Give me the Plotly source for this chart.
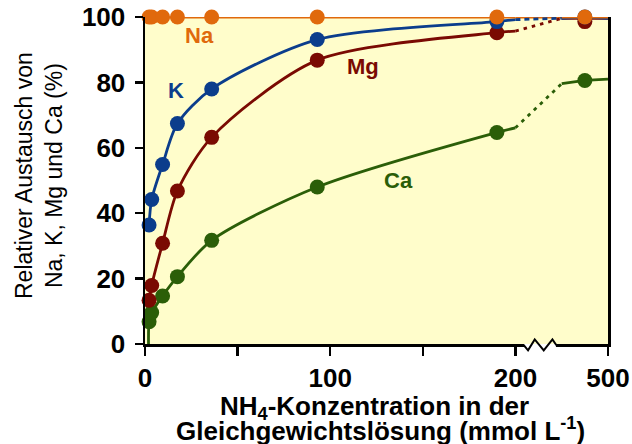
import plotly.graph_objects as go

# ---------------- data ----------------
conc = [2.2, 3.6, 9.5, 17.5, 36, 93, 190, 450]          # NH4 concentration (mmol/L)
na = [100, 100, 100, 100, 100, 100, 100, 100]
k = [36.4, 44.2, 54.9, 67.4, 78.0, 93.1, 98.6, 100]
mg = [13.4, 17.9, 30.8, 46.8, 63.2, 86.8, 95.2, 98.6]
ca = [6.8, 9.6, 14.7, 20.6, 31.7, 48.0, 64.7, 80.6]

# curve values read at the end of the lower segment (200), start of the upper segment (400) and axis end (500)
curve_x = [200, 400, 500]
na_curve = [100, 100, 100]
k_curve = [99.2, 99.6, 99.6]
mg_curve = [95.7, 99.6, 99.6]
ca_curve = [66.1, 79.6, 81.0]
ca_start = [1.9, 0]   # where the Ca curve meets the x axis

x_tick_vals = [0, 100, 200, 500]
x_tick_text = ["0", "100", "200", "500"]
x_minor_vals = [50, 150]
y_tick_vals = [0, 20, 40, 60, 80, 100]

series = [
    ("Ca", ca, ca_curve, "#2B5E08"),
    ("Mg", mg, mg_curve, "#7A0A02"),
    ("K", k, k_curve, "#0B3D8C"),
    ("Na", na, na_curve, "#E0690C"),
]

# ---------------- broken x axis mapping ----------------
LOW_MAX = 200
HIGH_MIN, HIGH_MAX = 400, 500
HIGH_START_POS, HIGH_END_POS = 225, 250


def xpos(v):
    if v <= LOW_MAX:
        return v
    return HIGH_START_POS + (v - HIGH_MIN) * (HIGH_END_POS - HIGH_START_POS) / (HIGH_MAX - HIGH_MIN)


FONT = "Liberation Sans, Arial, Helvetica, sans-serif"
LW = 2.8

fig = go.Figure()
late = []
for name, vals, cv, col in series:
    low_x = [c for c in conc if c <= LOW_MAX]
    low_y = vals[:len(low_x)]
    hi_x = [c for c in conc if c > LOW_MAX]
    hi_y = vals[len(low_x):]
    seg1_x = low_x + [curve_x[0]]
    seg1_y = low_y + [cv[0]]
    if name == "Ca":
        seg1_x = [ca_start[0]] + seg1_x
        seg1_y = [ca_start[1]] + seg1_y
    seg2_x = [curve_x[1]] + hi_x + [curve_x[2]]
    seg2_y = [cv[1]] + hi_y + [cv[2]]
    if name == "Mg":
        seg2_y = [cv[1], cv[2], cv[2]]
    fig.add_trace(go.Scatter(x=[xpos(v) for v in seg1_x], y=seg1_y, mode="lines",
                             line=dict(color=col, width=LW, shape="spline", smoothing=0.8),
                             cliponaxis=False, hoverinfo="skip"))
    fig.add_trace(go.Scatter(x=[xpos(v) for v in seg2_x], y=seg2_y, mode="lines",
                             line=dict(color=col, width=LW),
                             cliponaxis=False, hoverinfo="skip"))
    brk = go.Scatter(x=[xpos(curve_x[0]), xpos(curve_x[1])], y=[cv[0], cv[1]], mode="lines",
                     line=dict(color=col, width=LW,
                               dash="solid" if name == "Na" else ("5px,4px" if name == "K" else "3.5px,5px")),
                     cliponaxis=False, hoverinfo="skip")
    if name in ("K", "Mg"):
        late.append(brk)
    else:
        fig.add_trace(brk)
    fig.add_trace(go.Scatter(x=[xpos(v) for v in conc], y=vals, mode="markers",
                             marker=dict(color=col, size=15, line=dict(width=0)),
                             cliponaxis=False, hoverinfo="skip"))
for t in late:
    fig.add_trace(t)

# ---------------- axes ----------------
fig.update_xaxes(range=[0, HIGH_END_POS], tickvals=[xpos(v) for v in x_tick_vals], ticktext=x_tick_text,
                 minor=dict(tickvals=[xpos(v) for v in x_minor_vals], ticks="outside", ticklen=9,
                            tickwidth=2.5, tickcolor="black", showgrid=False),
                 showline=True, linecolor="black", linewidth=2.5, ticks="outside", ticklen=9,
                 tickwidth=2.5, tickcolor="black", showgrid=False, zeroline=False, automargin=False,
                 tickfont=dict(family=FONT, size=26, color="black", weight="bold"))
fig.update_yaxes(range=[0, 100], tickvals=y_tick_vals, showline=True, mirror=True,
                 linecolor="black", linewidth=2.5, ticks="outside", ticklen=8, tickwidth=2.5,
                 tickcolor="black", showgrid=False, zeroline=False, ticklabelstandoff=4, automargin=False,
                 tickfont=dict(family=FONT, size=26, color="black", weight="bold"))

L, R, T, B = 145, 24, 17, 100
W, H = 632, 444
PW, PH = W - L - R, H - T - B


def px(xp):
    return (xp - L) / PW


def py(yp):
    return (H - B - yp) / PH


annotations = [
    dict(text="Relativer Austausch von<br>Na, K, Mg und Ca (%)", textangle=-90,
         x=px(39), y=py(176), font=dict(family=FONT, size=23, color="black")),
    dict(text="NH<sub>4</sub>-Konzentration in der", x=px(374), y=py(407),
         font=dict(family=FONT, size=26, color="black", weight="bold")),
    dict(text="Gleichgewichtslösung (mmol L<sup>-1</sup>)", x=px(380), y=py(429),
         font=dict(family=FONT, size=26, color="black", weight="bold")),
    dict(text="Na", x=px(199), y=py(35), font=dict(family=FONT, size=22, color="#E0690C", weight="bold")),
    dict(text="K", x=px(175.5), y=py(90.5), font=dict(family=FONT, size=22, color="#0B3D8C", weight="bold")),
    dict(text="Mg", x=px(363), y=py(66), font=dict(family=FONT, size=22, color="#7A0A02", weight="bold")),
    dict(text="Ca", x=px(398), y=py(180), font=dict(family=FONT, size=22, color="#2B5E08", weight="bold")),
]
for a in annotations:
    a.update(xref="paper", yref="paper", showarrow=False, xanchor="center", yanchor="middle")

# axis break marker (zigzag) just after the lower segment
BREAK_POS = 204.5
shapes = [
    dict(type="rect", xref="x", yref="paper", xsizemode="pixel", ysizemode="pixel",
         xanchor=BREAK_POS, yanchor=0, x0=0.5, x1=32.2, y0=-4, y1=0,
         fillcolor="white", line=dict(width=0), layer="above"),
    dict(type="path", xref="x", yref="paper", xsizemode="pixel", ysizemode="pixel",
         xanchor=BREAK_POS, yanchor=0,
         path="M0,-1.2 L4.3,-6.3 L11,4.6 L20,-6.3 L28.7,4.6 L32.7,-1.2",
         line=dict(color="black", width=2), layer="above"),
]

fig.update_layout(width=W, height=H, margin=dict(l=L, r=R, t=T, b=B, pad=0, autoexpand=False),
                  paper_bgcolor="white", plot_bgcolor="#FFFDCB", showlegend=False,
                  annotations=annotations, shapes=shapes, hovermode=False)

fig.write_html("out.html", config={"displayModeBar": False, "staticPlot": True},
               post_script="document.body.style.margin='0';document.body.style.padding='0';"
                           "document.body.style.overflow='hidden';")
